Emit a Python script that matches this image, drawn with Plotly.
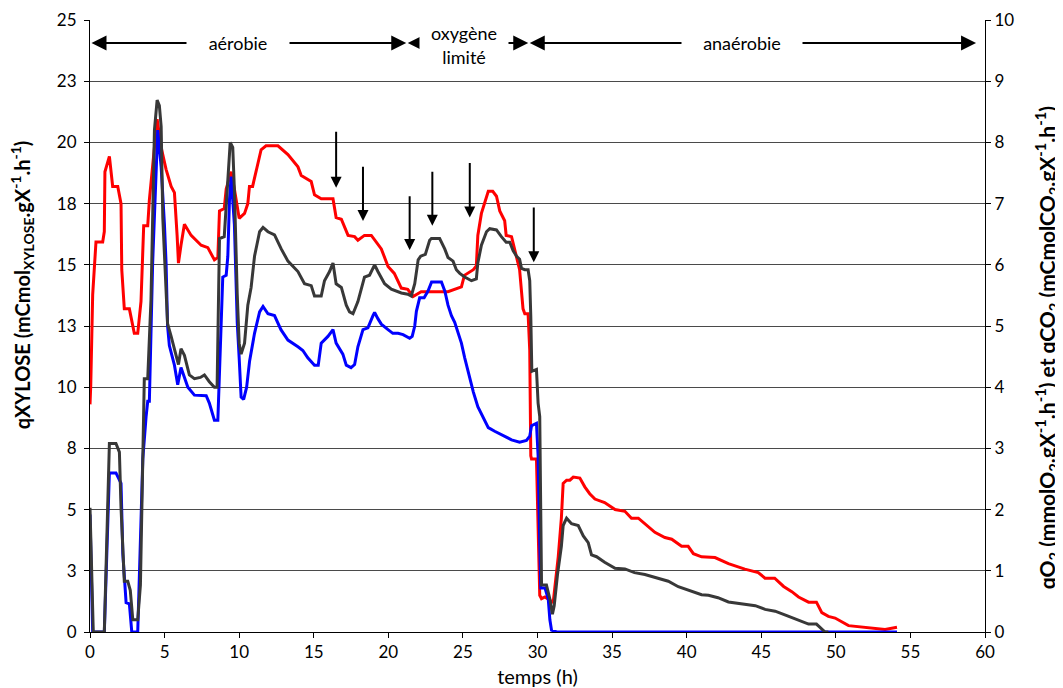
import plotly.graph_objects as go

# ---------------- data ----------------
# qXYLOSE (left axis, mCmol.gX-1.h-1)
t_xyl = [0, 0.05, 0.18, 0.34, 0.40, 0.85, 0.96, 1.0, 1.3, 1.52,
         1.86, 2.08, 2.13, 2.3, 2.64, 2.97, 3.2, 3.42, 3.6, 3.87,
         3.98, 4.32, 4.5, 4.77, 5.1, 5.44, 5.66, 5.84, 5.93, 6.1,
         6.33, 6.78, 7.45, 7.9, 8.34, 8.57, 8.68, 9.0, 9.13, 9.46,
         9.68, 10.0, 10.36, 10.58, 10.69, 10.9, 11.25, 11.47, 11.8, 12.6,
         13.27, 13.94, 14.16, 14.83, 15.05, 15.5, 16.29, 16.5, 16.85, 17.3,
         17.74, 17.96, 18.4, 18.86, 19.53, 19.98, 20.4, 20.87, 21.3, 21.66,
         22.2, 24.0, 24.9, 25.1, 25.7, 25.9, 26.0, 26.24, 26.7, 27.0,
         27.25, 27.47, 27.8, 27.9, 28.26, 28.5, 28.8, 29.03, 29.15, 29.37,
         29.48, 29.55, 29.6, 29.93, 30.15, 30.27, 30.5, 30.83, 31.05, 31.39,
         31.6, 31.72, 31.95, 32.17, 32.4, 32.84, 33.17, 33.5, 33.85, 34.5,
         35.2, 35.86, 36.3, 36.76, 37.2, 37.87, 38.54, 39.0, 39.66, 40.1,
         40.45, 41.0, 41.9, 42.8, 43.9, 44.8, 45.25, 45.9, 46.5, 47.05,
         47.5, 48.17, 48.7, 49.06, 49.5, 49.95, 50.85, 51.75, 52.9, 53.3,
         54.1]
q_xyl = [9.3, 10.07, 13.78, 15.5, 15.93, 15.93, 16.36, 18.8, 19.43, 18.2,
         18.2, 17.5, 14.8, 13.2, 13.2, 12.2, 12.2, 13.5, 16.6, 16.6,
         17.65, 19.8, 20.95, 19.8, 18.9, 18.2, 17.95, 16.2, 15.07, 15.8,
         16.66, 16.2, 15.8, 15.7, 15.2, 15.3, 17.2, 17.3, 18.1, 18.8,
         18.1, 16.9, 17.1, 17.5, 18.2, 18.2, 19.2, 19.7, 19.86, 19.86,
         19.5, 19.0, 18.65, 18.4, 17.86, 17.7, 17.7, 16.93, 16.86, 16.2,
         16.15, 16.0, 16.2, 16.2, 15.65, 14.93, 14.65, 14.05, 14.0, 13.7,
         13.9, 13.9, 14.1, 14.57, 14.8, 14.95, 16.2, 17.1, 18.0, 18.0,
         17.8, 17.2, 16.8, 16.2, 16.15, 15.5, 14.8, 13.2, 13.0, 13.0,
         11.5, 7.2, 7.07, 7.07, 1.5, 1.36, 1.43, 1.3, 1.2, 3.07,
         4.65, 6.07, 6.2, 6.2, 6.33, 6.29, 5.93, 5.65, 5.43, 5.29,
         5.0, 4.93, 4.65, 4.65, 4.43, 4.07, 3.86, 3.79, 3.5, 3.5,
         3.2, 3.07, 3.04, 2.79, 2.57, 2.43, 2.2, 2.2, 1.86, 1.65,
         1.43, 1.22, 1.22, 0.79, 0.64, 0.57, 0.26, 0.21, 0.15, 0.1,
         0.19]

# qO2 (right axis, mmolO2.gX-1.h-1)
t_o2 = [0, 0.18, 0.96, 1.3, 1.74, 2.08, 2.2, 2.3, 2.42, 2.64,
        2.8, 3.2, 3.3, 3.54, 3.76, 3.87, 3.98, 4.2, 4.54, 4.77,
        4.99, 5.1, 5.2, 5.32, 5.66, 5.88, 6.1, 6.56, 7.0, 7.79,
        8.0, 8.34, 8.57, 8.68, 8.9, 9.13, 9.24, 9.35, 9.46, 9.68,
        9.87, 10.0, 10.13, 10.3, 10.5, 10.7, 11.03, 11.37, 11.6, 11.93,
        12.37, 12.8, 13.27, 13.94, 14.27, 14.6, 15.05, 15.3, 15.5, 15.95,
        16.29, 16.5, 16.73, 16.95, 17.18, 17.5, 17.74, 17.96, 18.3, 18.63,
        18.97, 19.08, 19.3, 19.53, 19.98, 20.3, 20.65, 20.99, 21.43, 21.6,
        21.77, 21.88, 22.1, 22.4, 22.66, 22.9, 23.56, 23.79, 24.0, 24.23,
        24.45, 24.67, 24.9, 25.12, 25.4, 25.7, 26.0, 26.24, 26.7, 27.13,
        27.8, 28.26, 28.8, 29.26, 29.48, 29.6, 29.93, 30.04, 30.15, 30.22,
        30.5, 30.72, 30.83, 30.94, 31.3, 54.1]
q_o2 = [1.92, 0, 0, 2.6, 2.6, 2.43, 1.28, 0.83, 0.48, 0.46,
        0, 0, 0.88, 2.83, 3.52, 3.77, 3.77, 6.03, 8.2, 7.6,
        6.66, 6.03, 5.0, 4.68, 4.36, 4.04, 4.32, 4.0, 3.87, 3.86,
        3.74, 3.46, 3.46, 4.32, 5.8, 5.83, 6.14, 7.06, 7.44, 6.66,
        5.06, 4.48, 3.84, 3.8, 4.0, 4.43, 4.88, 5.23, 5.32, 5.2,
        5.17, 4.94, 4.77, 4.66, 4.6, 4.48, 4.36, 4.36, 4.72, 4.83,
        4.94, 4.72, 4.63, 4.54, 4.36, 4.32, 4.37, 4.66, 4.94, 4.97,
        5.17, 5.22, 5.12, 5.03, 4.94, 4.88, 4.88, 4.86, 4.8, 4.83,
        5.0, 5.24, 5.46, 5.46, 5.57, 5.72, 5.72, 5.57, 5.34, 5.17,
        5.06, 4.88, 4.72, 4.48, 4.2, 3.92, 3.68, 3.57, 3.34, 3.28,
        3.2, 3.14, 3.1, 3.13, 3.2, 3.37, 3.41, 2.88, 1.46, 0.72,
        0.72, 0.54, 0.2, 0.03, 0, 0]

# qCO2 (right axis, mCmolCO2.gX-1.h-1)
t_co2 = [0, 0.22, 0.96, 1.3, 1.74, 1.97, 2.08, 2.3, 2.53, 2.7,
         2.87, 3.2, 3.38, 3.54, 3.64, 3.87, 4.09, 4.32, 4.5, 4.65,
         4.77, 4.88, 5.1, 5.2, 5.44, 5.77, 5.93, 6.1, 6.33, 6.66,
         7.0, 7.4, 7.67, 8.0, 8.34, 8.52, 8.68, 9.0, 9.24, 9.4,
         9.57, 9.68, 9.87, 10.0, 10.13, 10.36, 10.58, 10.8, 11.03, 11.37,
         11.6, 11.93, 12.37, 12.82, 13.27, 13.94, 14.38, 14.83, 15.05, 15.5,
         15.72, 16.06, 16.29, 16.5, 16.85, 17.18, 17.4, 17.63, 17.96, 18.4,
         18.74, 19.08, 19.3, 19.75, 20.2, 20.87, 21.3, 21.54, 21.77, 22.0,
         22.17, 22.48, 22.77, 22.89, 23.44, 23.78, 24.0, 24.34, 24.56, 24.79,
         25.12, 25.57, 25.9, 26.0, 26.24, 26.58, 26.8, 27.25, 27.58, 27.9,
         28.14, 28.37, 28.6, 28.8, 28.93, 29.15, 29.37, 29.48, 29.55, 29.62,
         29.93, 30.04, 30.15, 30.22, 30.27, 30.6, 30.83, 31.0, 31.12, 31.34,
         31.6, 31.72, 31.95, 32.28, 32.73, 33.07, 33.4, 33.62, 33.96, 34.5,
         35.2, 35.86, 36.5, 37.2, 37.87, 38.77, 39.44, 40.1, 41.0, 41.46,
         42.1, 42.8, 43.7, 44.6, 45.26, 45.93, 46.8, 47.7, 48.17, 48.7,
         49.28, 49.5]
q_co2 = [2.03, 0, 0, 3.08, 3.08, 2.94, 2.03, 0.83, 0.83, 0.68,
         0.2, 0.2, 0.77, 3.17, 4.14, 4.14, 5.44, 8.2, 8.69, 8.6,
         8.26, 6.77, 5.6, 5.04, 4.83, 4.54, 4.37, 4.63, 4.52, 4.2,
         4.14, 4.16, 4.2, 4.09, 4.0, 4.0, 6.43, 6.46, 7.46, 8.0,
         7.92, 7.23, 5.52, 4.72, 4.54, 4.72, 5.34, 5.63, 6.14, 6.54,
         6.61, 6.54, 6.49, 6.26, 6.06, 5.89, 5.69, 5.66, 5.49, 5.49,
         5.74, 5.89, 6.03, 5.69, 5.63, 5.34, 5.23, 5.2, 5.4, 5.8,
         5.83, 6.0, 5.89, 5.69, 5.6, 5.54, 5.52, 5.49, 5.69, 6.08,
         6.14, 6.17, 6.4, 6.43, 6.43, 6.26, 6.12, 6.06, 5.92, 5.86,
         5.8, 5.74, 5.77, 6.03, 6.32, 6.54, 6.59, 6.57, 6.46, 6.37,
         6.37, 6.23, 6.14, 6.09, 5.94, 5.92, 5.92, 5.74, 5.16, 4.26,
         4.29, 3.74, 3.52, 1.46, 0.77, 0.77, 0.54, 0.29, 0.43, 0.94,
         1.4, 1.74, 1.86, 1.77, 1.74, 1.57, 1.46, 1.26, 1.23, 1.14,
         1.04, 1.03, 0.97, 0.94, 0.89, 0.83, 0.74, 0.68, 0.61, 0.6,
         0.56, 0.49, 0.46, 0.43, 0.37, 0.34, 0.26, 0.17, 0.13, 0.13,
         0, 0]

# left axis tick labels (values every 2.5, rounded labels as in source)
left_tickvals = [0, 2.5, 5, 7.5, 10, 12.5, 15, 17.5, 20, 22.5, 25]
left_ticktext = ["0", "3", "5", "8", "10", "13", "15", "18", "20", "23", "25"]

# event arrows (time, arrow top, arrow tip) in left-axis units
event_t = [16.5, 18.3, 21.43, 22.95, 25.46, 29.75]
event_top = [20.5, 19.07, 17.86, 18.86, 19.22, 17.4]
event_tip = [18.15, 16.79, 15.6, 16.6, 16.93, 15.1]

# phases (start, end, label, label position)
phase_start = [0, 21.2, 29.38]
phase_end = [21.2, 29.38, 59.4]
phase_label = ["aérobie", "oxygène<br>limité", "anaérobie"]
phase_label_x = [9.9, 25.1, 43.7]
phase_y = 24.06
phase_box_y = 23.98

FONT = "Lato"

fig = go.Figure()
fig.add_trace(go.Scatter(x=t_o2, y=q_o2, mode="lines", yaxis="y2",
                         line=dict(color="#0000ff", width=3), name="qO2"))
fig.add_trace(go.Scatter(x=t_xyl, y=q_xyl, mode="lines",
                         line=dict(color="#ff0000", width=3), name="qXYLOSE"))
fig.add_trace(go.Scatter(x=t_co2, y=q_co2, mode="lines", yaxis="y2",
                         line=dict(color="#383838", width=3), name="qCO2"))

ann = []
for t, top, tip in zip(event_t, event_top, event_tip):
    ann.append(dict(x=t, y=tip, ax=t, ay=top, xref="x", yref="y", axref="x", ayref="y",
                    text="", showarrow=True, arrowhead=2, arrowsize=1.1, arrowwidth=2,
                    arrowcolor="black", standoff=0))
for s, e in zip(phase_start, phase_end):
    ann.append(dict(x=e, y=phase_y, ax=s, ay=phase_y, xref="x", yref="y", axref="x", ayref="y",
                    text="", showarrow=True, arrowhead=2, startarrowhead=2,
                    arrowside="end+start", arrowsize=1.5, startarrowsize=1.5,
                    arrowwidth=2, arrowcolor="black", standoff=0, startstandoff=0))
for i, (lab, lx) in enumerate(zip(phase_label, phase_label_x)):
    if i == 1:
        ann.append(dict(x=lx, y=phase_box_y, xref="x", yref="y", text=lab, showarrow=False,
                        bgcolor="white", width=86, height=56,
                        font=dict(family=FONT, size=18, color="black")))
    else:
        ann.append(dict(x=lx, y=phase_y, xref="x", yref="y", text=lab, showarrow=False,
                        bgcolor="white", width=100 if i == 0 else 118, height=22,
                        font=dict(family=FONT, size=18, color="black")))

# axis titles
ann.append(dict(x=-0.075, y=0.568, xref="paper", yref="paper", showarrow=False,
                textangle=-90, xanchor="center", yanchor="middle",
                text="<b>qXYLOSE (mCmol<sub>XYLOSE</sub>.gX<sup>-1</sup>.h<sup>-1</sup>)</b>",
                font=dict(family=FONT, size=20, color="black")))
ann.append(dict(x=1.069, y=0.465, xref="paper", yref="paper", showarrow=False,
                textangle=-90, xanchor="center", yanchor="middle",
                text="<b>qO<sub>2</sub> (mmolO<sub>2</sub>.gX<sup>-1</sup>.h<sup>-1</sup>) et qCO<sub>2</sub> (mCmolCO<sub>2</sub>.gX<sup>-1</sup>.h<sup>-1</sup>)</b>",
                font=dict(family=FONT, size=21, color="black")))

fig.update_layout(
    width=1063, height=688,
    margin=dict(l=82, r=86, t=12, b=64),
    paper_bgcolor="white", plot_bgcolor="white",
    showlegend=False,
    font=dict(family=FONT, size=17, color="black"),
    xaxis=dict(range=[0, 60], dtick=5, tick0=0, showgrid=False, zeroline=False,
               showline=True, linecolor="black", linewidth=1, automargin=False,
               ticks="outside", ticklen=5, tickcolor="black",
               title=dict(text="temps (h)", font=dict(family=FONT, size=20), standoff=8)),
    yaxis=dict(range=[0, 25], tickvals=left_tickvals, ticktext=left_ticktext,
               showgrid=True, gridcolor="#4a4a4a", gridwidth=1, zeroline=False,
               showline=True, linecolor="black", linewidth=1, automargin=False,
               ticks="outside", ticklen=5, tickcolor="black", ticklabelstandoff=4),
    yaxis2=dict(range=[0, 10], dtick=1, tick0=0, overlaying="y", side="right",
                showgrid=False, zeroline=False, automargin=False,
                showline=True, linecolor="black", linewidth=1,
                ticks="outside", ticklen=5, tickcolor="black"),
    annotations=ann,
)

fig.write_html("out.html")
